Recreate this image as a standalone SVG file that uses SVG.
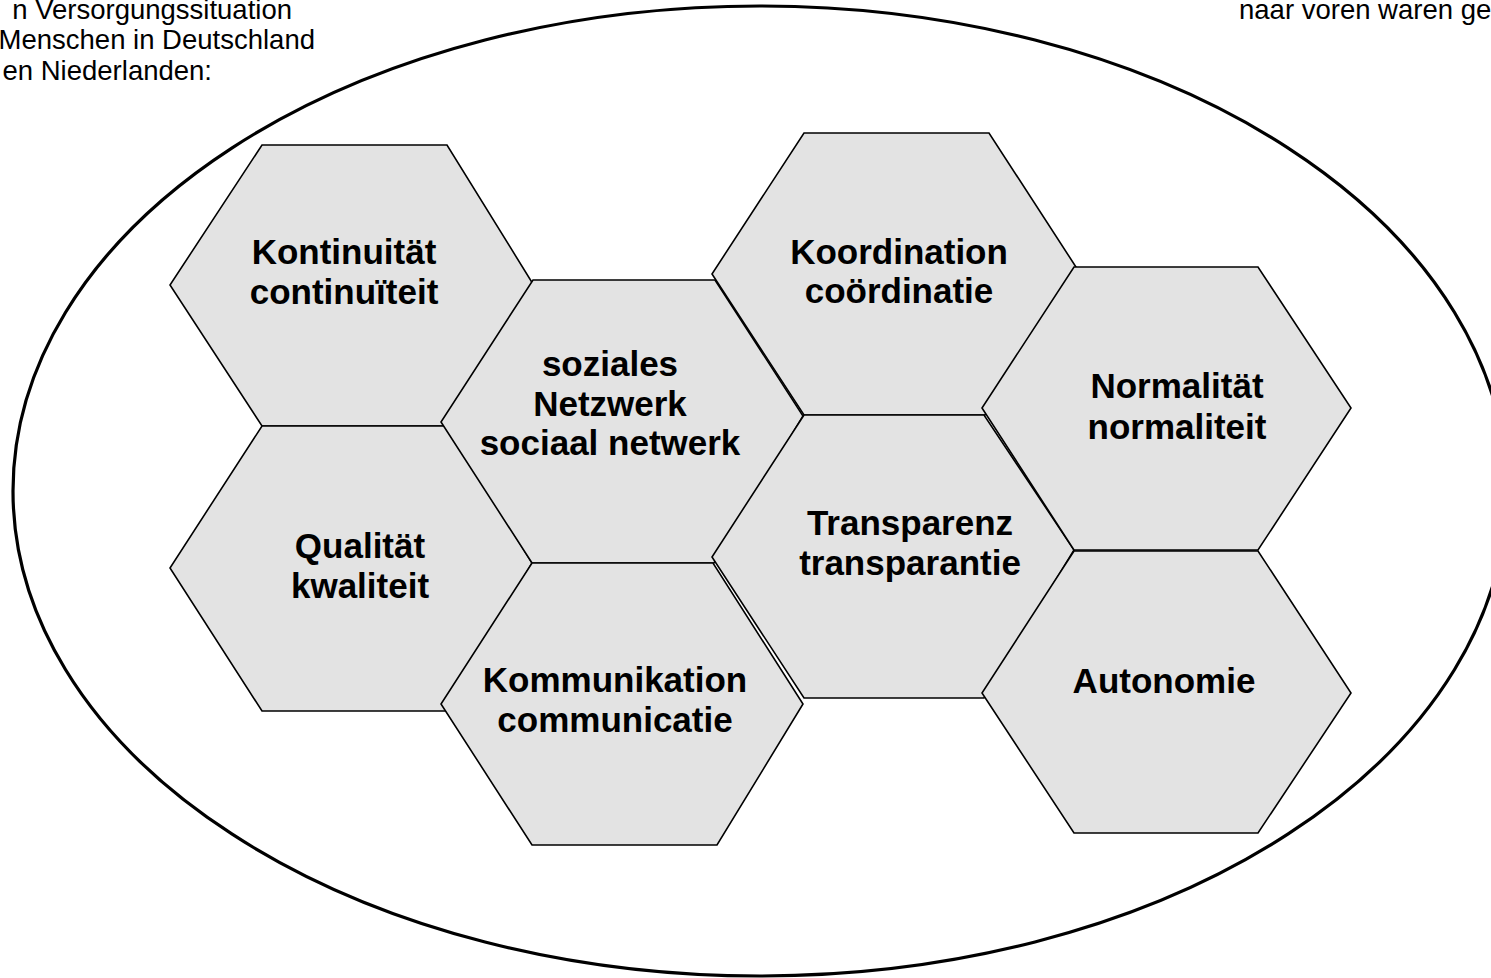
<svg xmlns="http://www.w3.org/2000/svg" width="1491" height="978" viewBox="0 0 1491 978">
  <style>
    .hex { fill: #e3e3e3; stroke: #000; stroke-width: 1.6; stroke-linejoin: miter; }
    .lbl { font-family: "Liberation Sans", Arial, sans-serif; font-weight: bold; font-size: 35px; fill: #000; text-anchor: middle; }
    .note { font-family: "Liberation Sans", Arial, sans-serif; font-size: 27.5px; fill: #000; }
    .frame { fill: none; stroke: #000; stroke-width: 3.2; }
  </style>
  <rect width="1491" height="978" fill="#fff"/>

  <!-- side notes -->
  <g id="notes">
    <text class="note" x="292" y="19" text-anchor="end">n Versorgungssituation</text>
    <text class="note" x="315" y="49" text-anchor="end">Menschen in Deutschland</text>
    <text class="note" x="212" y="80" text-anchor="end">en Niederlanden:</text>
    <text class="note" x="1239" y="19">naar voren waren ge</text>
  </g>

  <!-- enclosing ellipse -->
  <ellipse class="frame" cx="760" cy="491" rx="747" ry="485"/>

  <g id="connectors"></g>

  <g id="kontinuitaet">
    <polygon class="hex" points="262,145 447,145 533,284 447,426 262,426 170,285"/>
    <text class="lbl" x="344" y="264">Kontinuität</text>
    <text class="lbl" x="344" y="304">continuïteit</text>
  </g>

  <g id="qualitaet">
    <polygon class="hex" points="262,426 447,426 532,563 447,711 262,711 170,568"/>
    <text class="lbl" x="360" y="558">Qualität</text>
    <text class="lbl" x="360" y="598">kwaliteit</text>
  </g>

  <g id="soziales-netzwerk">
    <polygon class="hex" points="533,280 715,280 803,416 714,563 532,563 441,422"/>
    <text class="lbl" x="610" y="376">soziales</text>
    <text class="lbl" x="610" y="416">Netzwerk</text>
    <text class="lbl" x="610" y="455">sociaal netwerk</text>
  </g>

  <g id="kommunikation">
    <polygon class="hex" points="532,563 713,563 803,704 717,845 532,845 441,704"/>
    <text class="lbl" x="615" y="692">Kommunikation</text>
    <text class="lbl" x="615" y="732">communicatie</text>
  </g>

  <g id="koordination">
    <polygon class="hex" points="804,133 989,133 1076,267 985,415 804,415 712,274"/>
    <text class="lbl" x="899" y="264">Koordination</text>
    <text class="lbl" x="899" y="303">coördinatie</text>
  </g>

  <g id="transparenz">
    <polygon class="hex" points="804,415 984,415 1074,550 984,698 804,698 712,557"/>
    <text class="lbl" x="910" y="535">Transparenz</text>
    <text class="lbl" x="910" y="575">transparantie</text>
  </g>

  <g id="normalitaet">
    <polygon class="hex" points="1074,267 1258,267 1351,408 1258,550 1074,550 982,408"/>
    <text class="lbl" x="1177" y="398">Normalität</text>
    <text class="lbl" x="1177" y="439">normaliteit</text>
  </g>

  <g id="autonomie">
    <polygon class="hex" points="1074,551 1258,551 1351,693 1258,833 1074,833 982,693"/>
    <text class="lbl" x="1164" y="693">Autonomie</text>
  </g>
</svg>
